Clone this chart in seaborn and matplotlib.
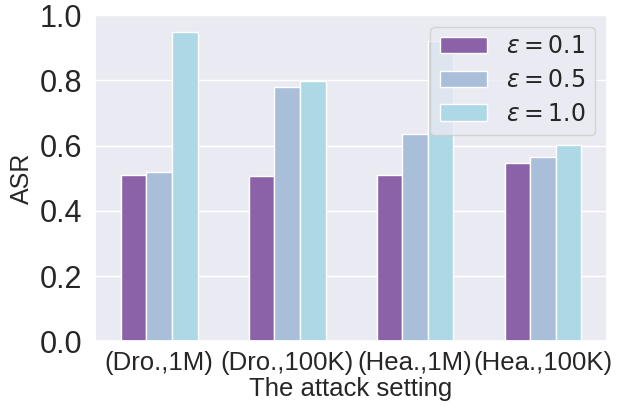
import matplotlib
matplotlib.use("Agg")
import matplotlib.pyplot as plt
import seaborn as sns
import pandas as pd

settings = ["(Dro.,1M)", "(Dro.,100K)", "(Hea.,1M)", "(Hea.,100K)"]
eps_labels = [r"$\varepsilon=0.1$", r"$\varepsilon=0.5$", r"$\varepsilon=1.0$"]
asr_eps01 = [0.511, 0.508, 0.510, 0.547]
asr_eps05 = [0.518, 0.781, 0.636, 0.564]
asr_eps10 = [0.949, 0.797, 0.922, 0.603]
colors = ["#8B61A8", "#A9BED9", "#ADD8E6"]

rows = []
for lab, vals in zip(eps_labels, [asr_eps01, asr_eps05, asr_eps10]):
    for s, v in zip(settings, vals):
        rows.append({"setting": s, "eps": lab, "ASR": v})
df = pd.DataFrame(rows)

sns.set_theme(style="darkgrid")
plt.rcParams['font.family'] = ['Liberation Sans', 'DejaVu Sans']

fig, ax = plt.subplots(figsize=(6.27, 4.07), dpi=100)
sns.barplot(data=df, x="setting", y="ASR", hue="eps", palette=colors,
            saturation=1, width=0.6, edgecolor="white", linewidth=1, ax=ax)
ax.set_ylim(0, 1.0)
ax.set_yticks([0, 0.2, 0.4, 0.6, 0.8, 1.0])
ax.tick_params(axis='y', labelsize=22)
ax.tick_params(axis='x', labelsize=18.5, pad=0.5)
ax.set_xlabel("The attack setting", fontsize=18.5, labelpad=1.5)
ax.set_ylabel("ASR", fontsize=18)
ax.legend(loc="upper right", fontsize=17, title=None)
fig.subplots_adjust(left=0.152, right=0.968, top=0.963, bottom=0.161)
fig.savefig("out.png", dpi=100)
